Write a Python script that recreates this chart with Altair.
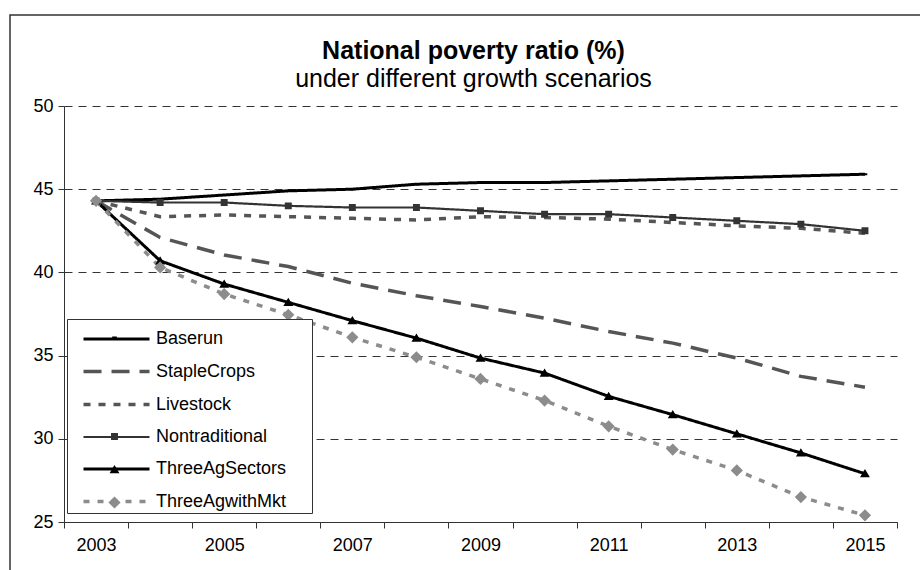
import altair as alt
import pandas as pd

years = list(range(2003, 2016))
series_names = ["Baserun", "StapleCrops", "Livestock", "Nontraditional",
                "ThreeAgSectors", "ThreeAgwithMkt"]

baserun = [44.3, 44.4, 44.65, 44.9, 45.0, 45.3, 45.4, 45.4, 45.5, 45.6, 45.7, 45.8, 45.9]
staple_crops = [44.3, 42.1, 41.05, 40.35, 39.35, 38.6, 37.95, 37.25, 36.45, 35.75, 34.85, 33.75, 33.1]
livestock = [44.3, 43.35, 43.45, 43.35, 43.25, 43.15, 43.35, 43.3, 43.2, 43.0, 42.8, 42.65, 42.35]
nontraditional = [44.3, 44.2, 44.2, 44.0, 43.9, 43.9, 43.7, 43.5, 43.5, 43.3, 43.1, 42.9, 42.5]
three_ag_sectors = [44.3, 40.7, 39.3, 38.2, 37.1, 36.05, 34.85, 33.95, 32.55, 31.45, 30.3, 29.15, 27.9]
three_ag_with_mkt = [44.3, 40.3, 38.7, 37.45, 36.1, 34.9, 33.6, 32.3, 30.75, 29.35, 28.1, 26.5, 25.4]

all_values = [baserun, staple_crops, livestock, nontraditional, three_ag_sectors, three_ag_with_mkt]
marker_keys = ["m_" + n for n in series_names]

rows = []
for name, key, vals in zip(series_names, marker_keys, all_values):
    for yr, v in zip(years, vals):
        rows.append({"year": yr, "series": name, "marker": key, "value": v})
df = pd.DataFrame(rows)

# styles
line_colors = ["#000000", "#555555", "#555555", "#333333", "#000000", "#8c8c8c"]
line_dashes = [[1, 0], [18, 10], [7, 8], [1, 0], [1, 0], [6, 8]]
line_widths = [3, 3.5, 3.5, 2.2, 3, 3.5]
# marker paths are drawn in a box scaled by the symbol size (1089 -> 33 px box);
# the zero-length end segments give every marker the same height in the legend
BOX = "M0,-1L0,-1M0,1L0,1"
SQUARE = "M-0.21,-0.21H0.21V0.21H-0.21Z" + BOX
TRIANGLE = "M0,-0.28L0.3,0.22L-0.3,0.22Z" + BOX
DIAMOND = "M0,-0.37L0.37,0L0,0.37L-0.37,0Z" + BOX
DASH = "M-0.14,-0.06H0.14V0.06H-0.14Z" + BOX
marker_shapes = [DASH, SQUARE, SQUARE, SQUARE, TRIANGLE, DIAMOND]
marker_colors = ["#000000", "transparent", "transparent", "#333333", "#000000", "#8c8c8c"]
SYM = 1089

W, H = 833, 416
FONT = "Liberation Sans"

x_enc = alt.X(
    "year:O",
    scale=alt.Scale(type="band", paddingInner=0, paddingOuter=0),
    bandPosition=0.5,
    axis=alt.Axis(
        title=None, tickBand="extent", labelAngle=0,
        labelExpr="datum.value % 2 == 1 ? datum.label : ''",
        labelFontSize=18, labelFont=FONT, labelColor="black", labelPadding=8,
        tickSize=6, tickColor="#333333", domainColor="#333333", grid=False,
    ),
)
y_enc = alt.Y(
    "value:Q",
    scale=alt.Scale(domain=[25, 50], nice=False, zero=False),
    axis=alt.Axis(
        title=None, values=[25, 30, 35, 40, 45, 50], grid=True,
        gridDash=[8, 6], gridColor="#333333", gridWidth=1,
        tickSize=6, tickColor="#333333", domainColor="#333333",
        labelFontSize=18, labelFont=FONT, labelColor="black", labelPadding=5,
    ),
)

common_legend = dict(
    orient="none", legendX=3, legendY=213, title=None,
    symbolSize=SYM, padding=2, symbolOffset=29, labelOffset=21,
    labelFontSize=18, labelFont=FONT,
)
line_legend = alt.Legend(
    symbolType="M-2,0H2", symbolStrokeWidth=3, labelColor="black",
    fillColor="white", strokeColor="#333333", zindex=1, rowPadding=5,
    labelExpr="datum.label + '\u00a0\u00a0\u2800'",
    **common_legend,
)
marker_legend = alt.Legend(
    symbolStrokeWidth=0, labelOpacity=0, zindex=2, rowPadding=0,
    labelExpr="''",
    **common_legend,
)

lines = alt.Chart(df).mark_line().encode(
    x=x_enc,
    y=y_enc,
    color=alt.Color("series:N", sort=series_names,
                    scale=alt.Scale(domain=series_names, range=line_colors),
                    legend=line_legend),
    strokeDash=alt.StrokeDash("series:N", sort=series_names,
                              scale=alt.Scale(domain=series_names, range=line_dashes),
                              legend=line_legend),
    strokeWidth=alt.StrokeWidth("series:N",
                                scale=alt.Scale(type="ordinal", domain=series_names,
                                                range=line_widths),
                                legend=None),
    order="year:O",
)

points = alt.Chart(df).mark_point(filled=True, opacity=1, size=SYM).encode(
    x=x_enc,
    y=y_enc,
    shape=alt.Shape("marker:N", sort=marker_keys,
                    scale=alt.Scale(domain=marker_keys, range=marker_shapes),
                    legend=marker_legend),
    fill=alt.Fill("marker:N", sort=marker_keys,
                  scale=alt.Scale(domain=marker_keys, range=marker_colors),
                  legend=marker_legend),
)

border = alt.Chart(alt.Data(values=[{"k": 1}])).mark_rect(
    fill="transparent", stroke="#333333", strokeWidth=1.5
).encode(
    x=alt.value(-54), x2=alt.value(W + 60),
    y=alt.value(-91), y2=alt.value(H + 80),
)

chart = alt.layer(border, lines, points).properties(
    width=W, height=H,
    title=alt.TitleParams(
        text="National poverty ratio (%)",
        subtitle="under different growth scenarios",
        fontSize=25, subtitleFontSize=25, font=FONT, subtitleFont=FONT,
        fontWeight="bold", color="black", subtitleColor="black",
        anchor="middle", frame="group", offset=-78, subtitlePadding=3, dx=-7,
    ),
    padding={"left": 64, "top": 106, "right": 23, "bottom": 48},
    autosize=alt.AutoSizeParams(type="none"),
    background="white",
).configure_view(stroke=None)

chart.save("out.html", embed_options={"renderer": "svg", "actions": False})
